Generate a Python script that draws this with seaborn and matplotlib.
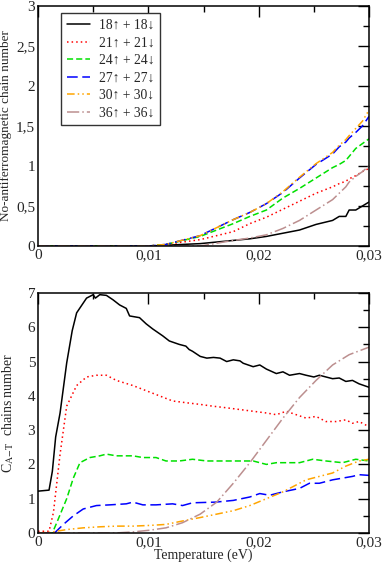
import numpy as np
import pandas as pd
import matplotlib
matplotlib.use("Agg")
from matplotlib import pyplot as plt
from matplotlib.ticker import MultipleLocator, FuncFormatter
import seaborn as sns

# values (temperature in eV)
labels = ["18\u2191 + 18\u2193", "21\u2191 + 21\u2193", "24\u2191 + 24\u2193",
          "27\u2191 + 27\u2193", "30\u2191 + 30\u2193", "36\u2191 + 36\u2193"]
colors = ["black", "#ff0000", "#00e000", "#0000ff", "#ffa500", "#bc8f8f"]
styles = ["-", (0, (1, 2)), (0, (4, 2)), (0, (7, 3)), (0, (5, 2, 1, 2, 1, 2)), (0, (8, 2, 1, 2))]

# top panel: no-antiferromagnetic chain number
top_t = [0.0, 0.005, 0.0100, 0.0116, 0.0147, 0.0177, 0.0192, 0.0207, 0.0222,
         0.0237, 0.0252, 0.0267, 0.0273, 0.0279, 0.0282, 0.0288, 0.0294, 0.0300]
top_18 = [0, 0, 0, 0.01, 0.03, 0.07, 0.09, 0.12, 0.16, 0.20, 0.27, 0.32, 0.37,
          0.37, 0.45, 0.45, 0.50, 0.55]
top_21 = [0, 0, 0, 0.02, 0.08, 0.18, 0.28, 0.36, 0.46, 0.56, 0.66, 0.74, 0.78,
          0.81, 0.84, 0.88, 0.93, 0.97]
top_24 = [0, 0, 0, 0.02, 0.12, 0.28, 0.37, 0.45, 0.60, 0.72, 0.85, 0.98, 1.02,
          1.07, 1.12, 1.22, 1.28, 1.34]
top_27 = [0, 0, 0, 0.02, 0.13, 0.33, 0.42, 0.53, 0.67, 0.85, 1.02, 1.15, 1.24,
          1.30, 1.35, 1.42, 1.50, 1.62]
top_30 = [0, 0, 0, 0.02, 0.13, 0.33, 0.42, 0.53, 0.68, 0.86, 1.03, 1.17, 1.26,
          1.33, 1.38, 1.47, 1.56, 1.70]
top_36 = [0, 0, 0, 0, 0.0, 0.07, 0.10, 0.14, 0.22, 0.32, 0.45, 0.58, 0.66,
          0.74, 0.80, 0.87, 0.93, 1.00]
top_series = [top_18, top_21, top_24, top_27, top_30, top_36]

# bottom panel: C_A-T chains number
b18_t = [0.0, 0.0010, 0.0013, 0.0016, 0.0020, 0.0026, 0.0031, 0.0035, 0.0044,
         0.0050, 0.0052, 0.0056, 0.0062, 0.0068, 0.0074, 0.0080, 0.0083, 0.0092,
         0.0098, 0.0104, 0.0113, 0.0119, 0.0128, 0.0134, 0.0137, 0.0140, 0.0147,
         0.0153, 0.0159, 0.0165, 0.0171, 0.0177, 0.0183, 0.0186, 0.0195, 0.0201,
         0.0207, 0.0216, 0.0222, 0.0228, 0.0237, 0.0243, 0.0250, 0.0255, 0.0261,
         0.0267, 0.0273, 0.0279, 0.0285, 0.0291, 0.0300]
b18 = [1.22, 1.25, 1.8, 2.8, 3.5, 4.96, 5.9, 6.42, 6.85, 6.95, 6.85, 6.95, 6.93,
       6.80, 6.65, 6.55, 6.33, 6.28, 6.10, 5.95, 5.75, 5.60, 5.50, 5.45, 5.35,
       5.30, 5.15, 5.10, 5.12, 5.10, 5.00, 5.05, 5.02, 4.95, 4.85, 4.90, 4.78,
       4.65, 4.70, 4.60, 4.65, 4.60, 4.55, 4.60, 4.55, 4.50, 4.52, 4.42, 4.45,
       4.35, 4.25]

b21_t = [0.0, 0.0010, 0.0014, 0.0020, 0.0026, 0.0035, 0.0044, 0.0053, 0.0062,
         0.0071, 0.0086, 0.0098, 0.0110, 0.0122, 0.0134, 0.0147, 0.0158, 0.0171,
         0.0183, 0.0195, 0.0207, 0.0216, 0.0225, 0.0234, 0.0243, 0.0252, 0.0261,
         0.0270, 0.0279, 0.0285, 0.0291, 0.0300]
b21 = [0.05, 0.05, 0.6, 2.3, 3.7, 4.3, 4.55, 4.6, 4.6, 4.45, 4.3, 4.15, 4.0,
       3.85, 3.8, 3.75, 3.7, 3.65, 3.6, 3.55, 3.5, 3.45, 3.55, 3.45, 3.35, 3.4,
       3.25, 3.25, 3.3, 3.2, 3.25, 3.1]

b24_t = [0.0, 0.0013, 0.0017, 0.0026, 0.0032, 0.0038, 0.0047, 0.0056, 0.0062,
         0.0071, 0.0086, 0.0095, 0.0107, 0.0116, 0.0128, 0.0140, 0.0153, 0.0177,
         0.0195, 0.0207, 0.0216, 0.0237, 0.0249, 0.0261, 0.0276, 0.0288, 0.0300]
b24 = [0.0, 0.0, 0.3, 1.0, 1.6, 2.05, 2.2, 2.25, 2.3, 2.25, 2.25, 2.2, 2.2, 2.1,
       2.1, 2.15, 2.1, 2.1, 2.1, 2.0, 2.05, 2.05, 2.15, 2.1, 2.05, 2.15, 2.1]

b27_t = [0.0, 0.0015, 0.0023, 0.0032, 0.0041, 0.0053, 0.0065, 0.0080, 0.0086,
         0.0095, 0.0107, 0.0122, 0.0131, 0.0140, 0.0161, 0.0177, 0.0192, 0.0201,
         0.0210, 0.0222, 0.0237, 0.0246, 0.0255, 0.0267, 0.0276, 0.0285, 0.0291,
         0.0300]
b27 = [0.0, 0.0, 0.25, 0.5, 0.7, 0.8, 0.82, 0.85, 0.9, 0.82, 0.82, 0.85, 0.8,
       0.88, 0.9, 0.95, 1.05, 1.15, 1.1, 1.2, 1.3, 1.45, 1.45, 1.55, 1.6, 1.65,
       1.7, 1.68]

b30_t = [0.0, 0.0011, 0.0026, 0.0041, 0.0056, 0.0071, 0.0086, 0.0101, 0.0116,
         0.0131, 0.0147, 0.0162, 0.0177, 0.0192, 0.0207, 0.0222, 0.0231, 0.0243,
         0.0255, 0.0267, 0.0279, 0.0291, 0.0300]
b30 = [0.0, 0.02, 0.1, 0.15, 0.18, 0.2, 0.2, 0.22, 0.25, 0.35, 0.45, 0.55, 0.65,
       0.8, 1.0, 1.2, 1.35, 1.55, 1.65, 1.75, 1.95, 2.1, 2.15]

b36_t = [0.0, 0.0070, 0.0086, 0.0101, 0.0116, 0.0131, 0.0147, 0.0162, 0.0177,
         0.0192, 0.0207, 0.0222, 0.0237, 0.0252, 0.0267, 0.0282, 0.0300]
b36 = [0.0, 0.0, 0.03, 0.08, 0.15, 0.3, 0.55, 0.9, 1.45, 2.05, 2.7, 3.35, 3.95,
       4.45, 4.9, 5.2, 5.42]

bottom_t = [b18_t, b21_t, b24_t, b27_t, b30_t, b36_t]
bottom_series = [b18, b21, b24, b27, b30, b36]

sns.set_style("white")
plt.rcParams['font.family'] = ['Liberation Serif', 'DejaVu Serif']
plt.rcParams['mathtext.fontset'] = 'stix'
plt.rcParams['font.size'] = 10

fig = plt.figure(figsize=(3.82, 5.67), dpi=100)
ax1 = fig.add_axes([0.0995, 0.5661, 0.8665, 0.4233])
ax2 = fig.add_axes([0.0995, 0.0600, 0.8665, 0.4233])

for i in range(6):
    sns.lineplot(x=top_t, y=top_series[i], ax=ax1, color=colors[i],
                 linestyle=styles[i], linewidth=1.1, label=labels[i])
    sns.lineplot(x=bottom_t[i], y=bottom_series[i], ax=ax2, color=colors[i],
                 linestyle=styles[i], linewidth=1.1)

fmt = FuncFormatter(lambda v, p: ('%g' % round(v, 6)).replace('.', ','))
for ax in (ax1, ax2):
    ax.set_xlim(0, 0.03)
    ax.xaxis.set_major_locator(MultipleLocator(0.01))
    ax.xaxis.set_minor_locator(MultipleLocator(0.005))
    ax.xaxis.set_major_formatter(fmt)
    ax.yaxis.set_major_formatter(fmt)
    ax.tick_params(which='both', direction='in', top=True, right=True,
                   labelsize=11, color='black', width=1)
    ax.tick_params(which='major', length=8, pad=2)
    ax.tick_params(which='minor', length=4)
    for s in ax.spines.values():
        s.set_color('black')
        s.set_linewidth(1.1)

ax1.set_ylim(0, 3)
ax1.yaxis.set_major_locator(MultipleLocator(0.5))
ax1.yaxis.set_minor_locator(MultipleLocator(0.25))
ax1.set_ylabel("No-antiferromagnetic chain number", fontsize=9.5, labelpad=3)

ax2.set_ylim(0, 7)
ax2.yaxis.set_major_locator(MultipleLocator(1))
ax2.yaxis.set_minor_locator(MultipleLocator(0.5))
ax2.set_ylabel(r"C$_{\mathrm{A\!-\!T}}$  chains number", fontsize=10, labelpad=8)
ax2.set_xlabel("Temperature (eV)", fontsize=10, labelpad=0)

leg = ax1.legend(loc='upper left', bbox_to_anchor=(0.07, 0.972), borderaxespad=0,
                 fancybox=False, framealpha=1, edgecolor='#333333', fontsize=9.8,
                 handlelength=1.7, labelspacing=0.33, borderpad=0.45,
                 handletextpad=0.6)
leg.get_frame().set_linewidth(1.0)

fig.savefig("out.png", dpi=100)
